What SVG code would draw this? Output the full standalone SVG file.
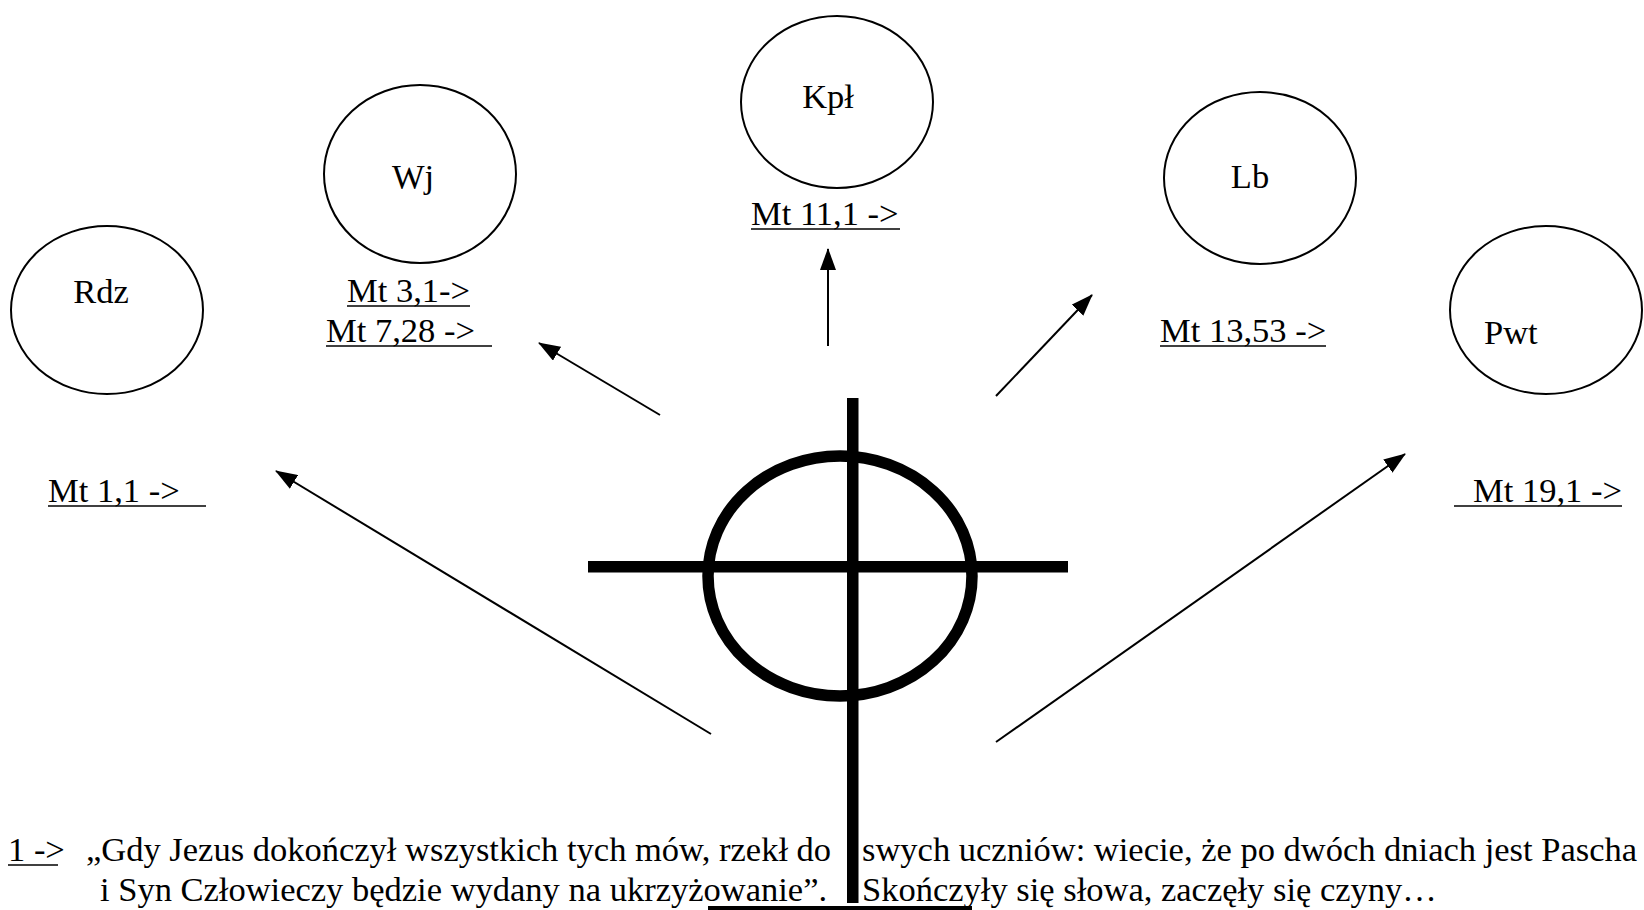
<svg xmlns="http://www.w3.org/2000/svg" width="1644" height="910" viewBox="0 0 1644 910">
<style>
text{font-family:"Liberation Serif","Times New Roman",serif;font-size:34.5px;fill:#000}
.node{fill:none;stroke:#000;stroke-width:2}
.ul{stroke:#000;stroke-width:1.6}
.conn{stroke:#000;stroke-width:2;fill:none}
.mid{text-anchor:middle}
</style>
<defs>
<marker id="ah" markerUnits="userSpaceOnUse" markerWidth="22" markerHeight="16" refX="21" refY="8" orient="auto">
<path d="M0,0 L22,8 L0,16 z" fill="#000"/>
</marker>
</defs>
<rect width="1644" height="910" fill="#fff"/>

<g id="rdz">
<ellipse class="node" cx="107" cy="310" rx="96" ry="84"/>
<text class="mid" x="101" y="303">Rdz</text>
</g>
<g id="wj">
<ellipse class="node" cx="420" cy="174" rx="96" ry="89"/>
<text class="mid" x="413" y="188">Wj</text>
</g>
<g id="kpl">
<ellipse class="node" cx="837" cy="102" rx="96" ry="86"/>
<text class="mid" x="828" y="108">Kpł</text>
</g>
<g id="lb">
<ellipse class="node" cx="1260" cy="178" rx="96" ry="86"/>
<text class="mid" x="1250" y="188">Lb</text>
</g>
<g id="pwt">
<ellipse class="node" cx="1546" cy="310" rx="96" ry="84"/>
<text x="1484" y="344">Pwt</text>
</g>

<g id="refs">
<text x="751" y="225">Mt 11,1 -&gt;</text>
<line class="ul" x1="751" y1="229" x2="900" y2="229"/>
<text x="347" y="302">Mt 3,1-&gt;</text>
<line class="ul" x1="347" y1="306" x2="470" y2="306"/>
<text x="326" y="342">Mt 7,28 -&gt;</text>
<line class="ul" x1="326" y1="346" x2="492" y2="346"/>
<text x="48" y="502">Mt 1,1 -&gt;</text>
<line class="ul" x1="48" y1="506" x2="206" y2="506"/>
<text x="1160" y="342">Mt 13,53 -&gt;</text>
<line class="ul" x1="1160" y1="346" x2="1326" y2="346"/>
<text x="1473" y="502">Mt 19,1 -&gt;</text>
<line class="ul" x1="1454" y1="506" x2="1622" y2="506"/>
</g>

<g id="cross">
<ellipse cx="840" cy="576" rx="132" ry="120" fill="none" stroke="#000" stroke-width="11.5"/>
<rect x="588" y="561" width="480" height="11.5" fill="#000"/>
<rect x="847" y="398" width="11.5" height="505" fill="#000"/>
<rect x="708" y="906" width="264" height="4" fill="#000"/>
</g>

<g id="connectors">
<line class="conn" x1="711" y1="734" x2="276" y2="471" marker-end="url(#ah)"/>
<line class="conn" x1="660" y1="415" x2="539" y2="343" marker-end="url(#ah)"/>
<line class="conn" x1="828" y1="346" x2="828" y2="249" marker-end="url(#ah)"/>
<line class="conn" x1="996" y1="396" x2="1092" y2="295" marker-end="url(#ah)"/>
<line class="conn" x1="996" y1="742" x2="1405" y2="454" marker-end="url(#ah)"/>
</g>

<g id="caption">
<text x="8" y="861">1 -&gt;</text>
<line class="ul" x1="8" y1="865" x2="58" y2="865"/>
<text x="86" y="861">„Gdy Jezus dokończył wszystkich tych mów, rzekł do</text>
<text x="862" y="861">swych uczniów: wiecie, że po dwóch dniach jest Pascha</text>
<text x="100" y="901">i Syn Człowieczy będzie wydany na ukrzyżowanie”.</text>
<text x="862" y="901">Skończyły się słowa, zaczęły się czyny…</text>
</g>
</svg>
